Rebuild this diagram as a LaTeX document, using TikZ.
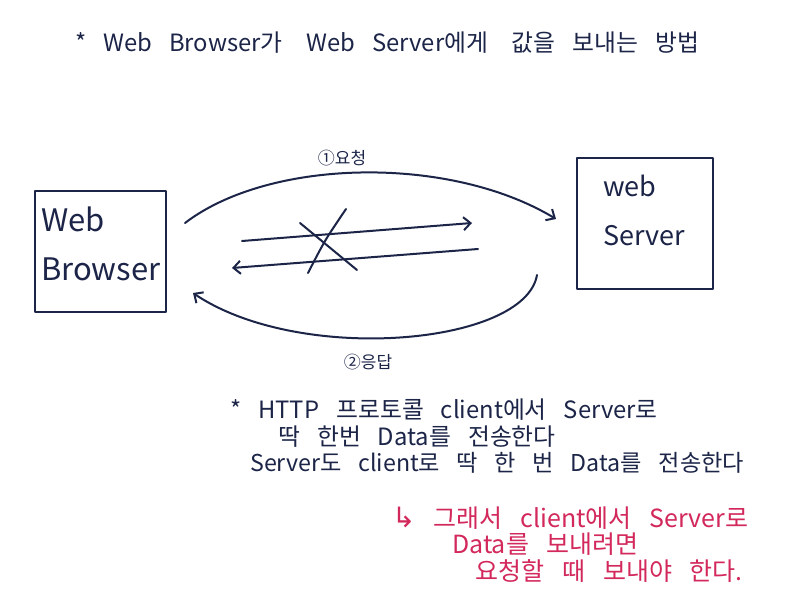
\documentclass[tikz,border=0pt]{standalone}
\usepackage{fontspec}
\setmainfont{Noto Sans CJK KR}[WordSpace=3.2]
\newfontfamily\symfont{DejaVu Sans}
\usetikzlibrary{arrows.meta}
\definecolor{ink}{HTML}{1C2548}
\definecolor{redink}{HTML}{D3285C}
\begin{document}
\begin{tikzpicture}[x=1pt,y=-1pt,
  pen/.style={draw=ink, line width=2pt, line cap=round, line join=round},
  arr/.style={pen, -{Straight Barb[length=7pt,width=13pt,line width=2pt]}},
  box/.style={pen, rectangle, inner sep=0pt},
  boxtext/.style={text=ink, align=left, inner sep=0pt, font=\fontsize{31}{49}\selectfont},
  txt/.style={text=ink, anchor=west, inner sep=0pt, font=\fontsize{23.8}{26}\selectfont},
  rtxt/.style={txt, text=redink, font=\fontsize{25}{28}\selectfont}]
\useasboundingbox[fill=white] (0,0) rectangle (785,602);

% title
\node[txt, font=\fontsize{23.8}{26}\selectfont] (title) at (75,43) {* Web Browser가\quad Web Server에게\quad 값을 보내는 방법};

% boxes
\node[box, minimum width=131pt, minimum height=121pt] (browser) at (100.5,251.5) {};
\node[boxtext, text width=125pt, anchor=center] (browserlbl) at ([xshift=3pt,yshift=8pt]browser.center) {Web\\Browser};
\node[box, minimum width=136pt, minimum height=131pt] (server) at (645,223.5) {};
\node[boxtext, text width=90pt, anchor=center, font=\fontsize{27}{49}\selectfont] (serverlbl) at ([xshift=3pt,yshift=13pt]server.center) {web\\Server};

% request arc
\coordinate (reqS) at (185,223);
\coordinate (reqE) at (556,219);
\draw[arr] (reqS) .. controls (270,158) and (450,155) .. (reqE);
\node[txt, anchor=center, font=\fontsize{17}{20}\selectfont] (req) at (342,158) {①요청};

% response arc
\coordinate (resS) at (537,275);
\coordinate (resE) at (193,293);
\draw[arr] (resS) .. controls (525,345) and (300,365) .. (resE);
\node[txt, anchor=center, font=\fontsize{17}{20}\selectfont] (res) at (368,362) {②응답};

% crossed-out direct arrows
\coordinate (a1) at (242,241);
\coordinate (a2) at (472,223);
\coordinate (b1) at (478,249);
\coordinate (b2) at (232,268);
\draw[arr] (a1) -- (a2);
\draw[arr] (b1) -- (b2);
\coordinate (x1) at (300,223);
\coordinate (x2) at (357,270);
\coordinate (x3) at (346,209);
\coordinate (x4) at (308,273);
\draw[pen] (x1) -- (x2);
\draw[pen] (x3) .. controls (325,240) .. (x4);

% notes
\node[txt] (t1) at (230,410) {* HTTP 프로토콜 client에서 Server로};
\node[txt] (t2) at (278,437) {딱 한번 Data를 전송한다};
\node[txt, font=\fontsize{23.2}{26}\selectfont] (t3) at (250,463) {Server도 client로 딱 한 번 Data를 전송한다};

\node[rtxt] (r1) at (392,518) {{\symfont\fontsize{28}{28}\selectfont ↳}\ 그래서 client에서 Server로};
\node[rtxt] (r2) at (452,544) {Data를 보내려면};
\node[rtxt] (r3) at (475,571) {요청할 때 보내야 한다.};
\end{tikzpicture}
\end{document}
